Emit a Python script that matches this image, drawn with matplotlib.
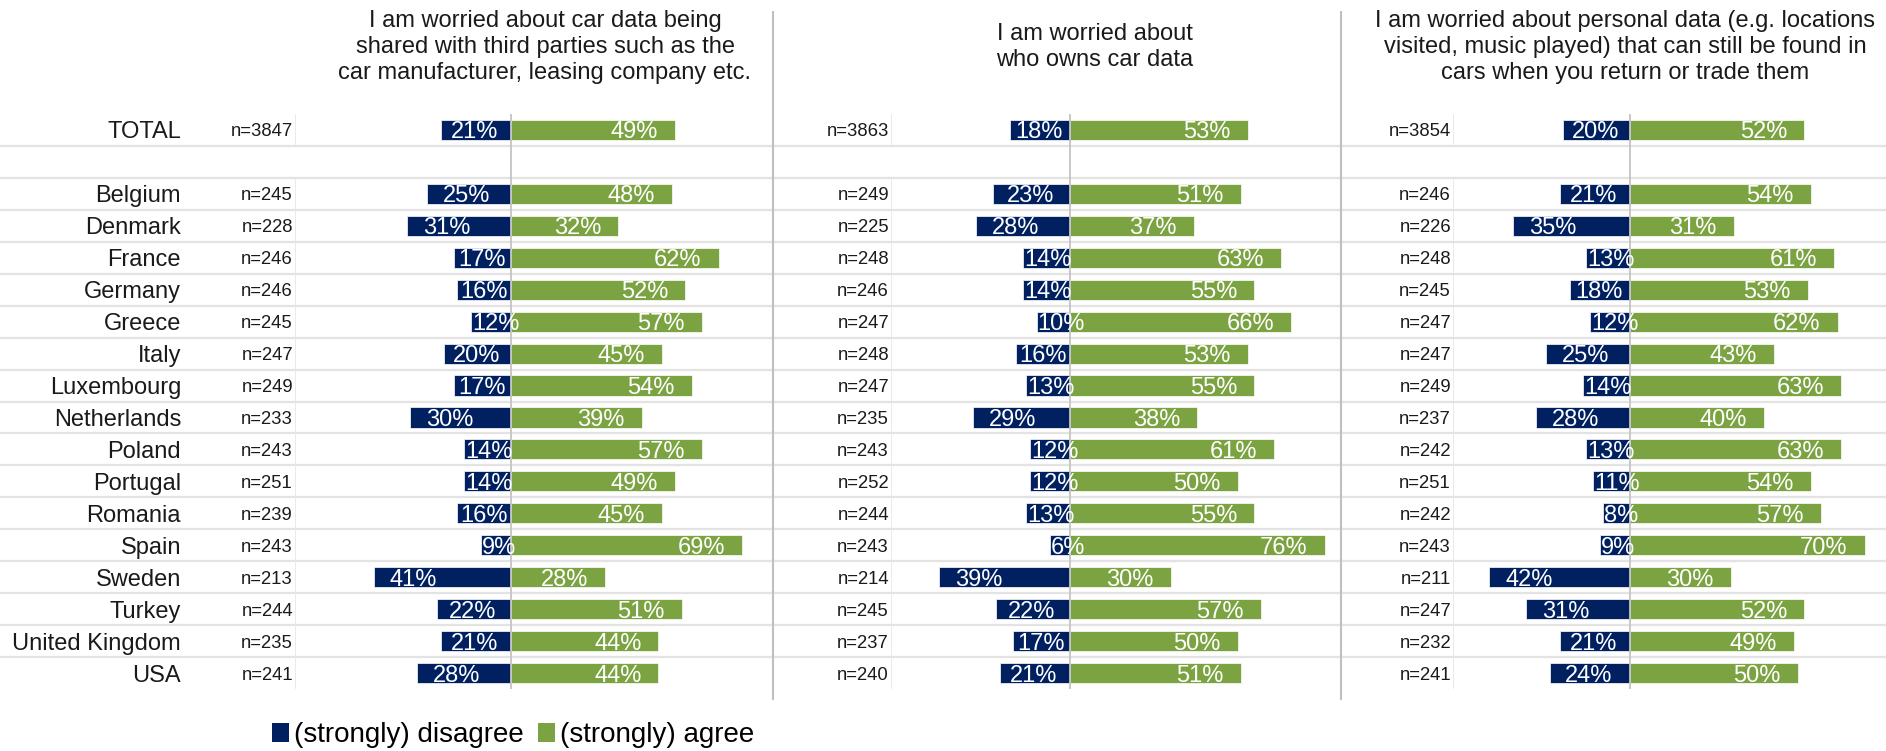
import matplotlib
matplotlib.use("Agg")
import matplotlib.pyplot as plt
from matplotlib.patches import Patch

plt.rcParams['font.family'] = ['Liberation Sans', 'DejaVu Sans']

# ---- data ----
categories = ["TOTAL", "Belgium", "Denmark", "France", "Germany", "Greece", "Italy",
              "Luxembourg", "Netherlands", "Poland", "Portugal", "Romania", "Spain",
              "Sweden", "Turkey", "United Kingdom", "USA"]

titles = ["I am worried about car data being\nshared with third parties such as the\ncar manufacturer, leasing company etc.",
          "I am worried about\nwho owns car data",
          "I am worried about personal data (e.g. locations\nvisited, music played) that can still be found in\ncars when you return or trade them"]

n_shared = [3847, 245, 228, 246, 246, 245, 247, 249, 233, 243, 251, 239, 243, 213, 244, 235, 241]
disagree_shared = [21, 25, 31, 17, 16, 12, 20, 17, 30, 14, 14, 16, 9, 41, 22, 21, 28]
agree_shared = [49, 48, 32, 62, 52, 57, 45, 54, 39, 57, 49, 45, 69, 28, 51, 44, 44]

n_owns = [3863, 249, 225, 248, 246, 247, 248, 247, 235, 243, 252, 244, 243, 214, 245, 237, 240]
disagree_owns = [18, 23, 28, 14, 14, 10, 16, 13, 29, 12, 12, 13, 6, 39, 22, 17, 21]
agree_owns = [53, 51, 37, 63, 55, 66, 53, 55, 38, 61, 50, 55, 76, 30, 57, 50, 51]

n_personal = [3854, 246, 226, 248, 245, 247, 247, 249, 237, 242, 251, 242, 243, 211, 247, 232, 241]
disagree_personal = [20, 21, 35, 13, 18, 12, 25, 14, 28, 13, 11, 8, 9, 42, 31, 21, 24]
agree_personal = [52, 54, 31, 61, 53, 62, 43, 63, 40, 63, 54, 57, 70, 30, 52, 49, 50]

legend_labels = ["(strongly) disagree", "(strongly) agree"]

# ---- layout / style ----
W, H = 1886, 751
NAVY = "#002060"
GREEN = "#7CA342"
TXT = "#1a1a1a"
ROW_TOP, ROW_BOT = 114, 689
NROWS = 18
ROW_H = (ROW_BOT - ROW_TOP) / NROWS
PX_PER_PCT = 3.35
rows = [0] + list(range(2, NROWS))   # row 1 is an empty spacer

panels = [
    dict(n=n_shared, dis=disagree_shared, agr=agree_shared, left=295, right=773, center=511, tx=545),
    dict(n=n_owns, dis=disagree_owns, agr=agree_owns, left=891, right=1341, center=1070, tx=1095),
    dict(n=n_personal, dis=disagree_personal, agr=agree_personal, left=1453, right=1886, center=1630, tx=1625),
]

fig = plt.figure(figsize=(W / 100, H / 100), dpi=100)
bg = fig.add_axes([0, 0, 1, 1])
bg.set_xlim(0, W)
bg.set_ylim(H, 0)
bg.axis("off")

# row separators over the full width
for k in range(1, NROWS):
    bg.hlines(ROW_TOP + ROW_H * k, 0, W, color="#e3e3e3", lw=1.6, zorder=0)
# panel dividers
bg.vlines([773, 1341], 11, 700, color="#bfbfbf", lw=1.5)

for pi, p in enumerate(panels):
    ax = fig.add_axes([p["left"] / W, 1 - ROW_BOT / H, (p["right"] - p["left"]) / W, (ROW_BOT - ROW_TOP) / H])
    ax.patch.set_alpha(0)
    x0 = (p["left"] - p["center"]) / PX_PER_PCT
    x1 = (p["right"] - p["center"]) / PX_PER_PCT
    ax.set_xlim(x0, x1)
    ax.set_ylim(NROWS - 0.5, -0.5)
    for s in ax.spines.values():
        s.set_visible(False)
    ax.set_xticks([])
    ax.set_yticks([])

    ax.vlines(x0, -0.5, 0.5, color="#e6e6e6", lw=1.2)
    ax.vlines(x0, 1.5, NROWS - 0.5, color="#e6e6e6", lw=1.2)
    ax.axvline(0, color="#c4c4c4", lw=1.3, zorder=3)

    neg = [-v for v in p["dis"]]
    ax.barh(rows, neg, height=0.63, color=NAVY, edgecolor="white", lw=0.5, zorder=2)
    ax.barh(rows, p["agr"], height=0.63, color=GREEN, edgecolor="white", lw=0.5, zorder=2)

    for r, n, d, a in zip(rows, p["n"], p["dis"], p["agr"]):
        ax.annotate(f"n={n}", xy=(0, r), xycoords=("axes fraction", "data"), xytext=(-2, 0),
                    textcoords="offset pixels", ha="right", va="center_baseline",
                    fontsize=13.3, color=TXT)
        pad = min(16, max(1, (d - 14) * 1.5))
        ax.annotate(f"{d}%", xy=(-d, r), xytext=(pad, 0), textcoords="offset pixels",
                    ha="left", va="center_baseline", fontsize=17, color="white", zorder=4)
        ax.annotate(f"{a}%", xy=(a, r), xytext=(-17, 0), textcoords="offset pixels",
                    ha="right", va="center_baseline", fontsize=17, color="white", zorder=4)
        if pi == 0:
            bg.text(181, ROW_TOP + ROW_H * (r + 0.5), categories[rows.index(r)],
                    ha="right", va="center_baseline", fontsize=17, color=TXT)

    bg.text(p["tx"], 47, titles[pi], ha="center", va="center", fontsize=17,
            linespacing=1.22, color=TXT)

handles = [Patch(facecolor=NAVY), Patch(facecolor=GREEN)]
fig.legend(handles, legend_labels, loc="center left", bbox_to_anchor=(272, 735),
           bbox_transform=bg.transData, ncol=2, frameon=False, fontsize=20,
           handlelength=0.6, handleheight=0.7, handletextpad=0.2, columnspacing=0.5,
           borderpad=0, borderaxespad=0)

fig.savefig("out.png", dpi=100)
